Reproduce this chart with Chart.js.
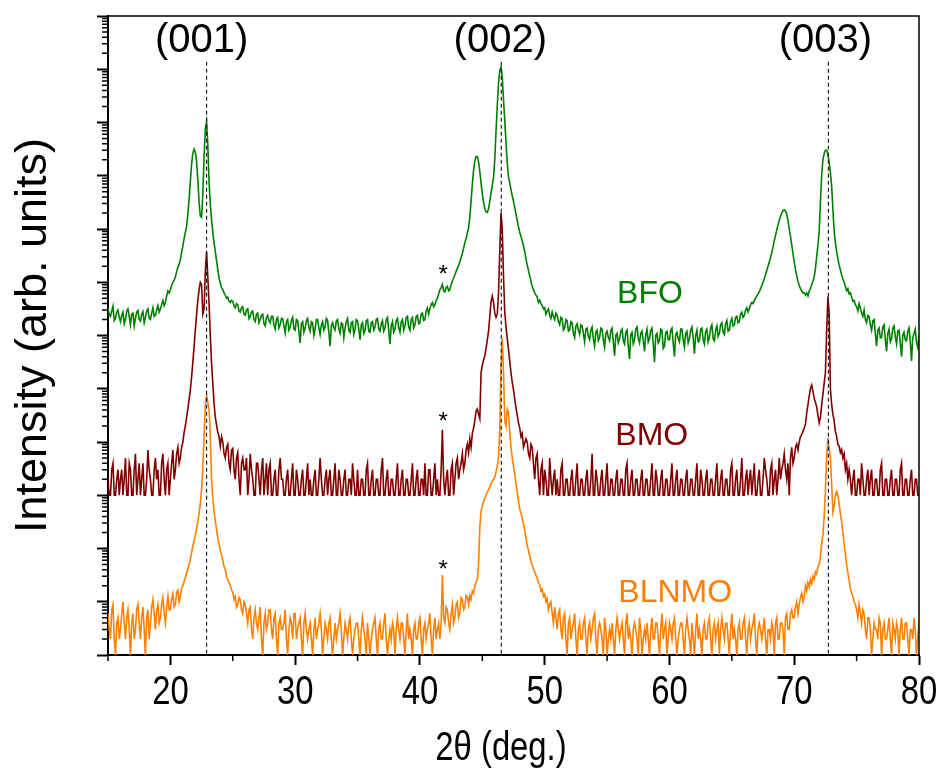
<!DOCTYPE html>
<html>
<head>
<meta charset="utf-8">
<title>XRD BFO / BMO / BLNMO</title>
<script src="https://cdn.jsdelivr.net/npm/chart.js@4.4.1/dist/chart.umd.min.js"></script>
<style>
  html, body { margin: 0; padding: 0; background: #fff; }
  #wrap { width: 941px; height: 778px; position: relative; }
</style>
</head>
<body>
<div id="wrap"><canvas id="xrd"></canvas></div>
<script>
/* ================================================
   DATA  (2theta scan in deg; intensities as log10 of
   arb. units, already offset per film as in the figure)
   one line = one degree (x.0 ... x.9)
================================================ */

const twoTheta = [
  15.0, 15.1, 15.2, 15.3, 15.4, 15.5, 15.6, 15.7, 15.8, 15.9,
  16.0, 16.1, 16.2, 16.3, 16.4, 16.5, 16.6, 16.7, 16.8, 16.9,
  17.0, 17.1, 17.2, 17.3, 17.4, 17.5, 17.6, 17.7, 17.8, 17.9,
  18.0, 18.1, 18.2, 18.3, 18.4, 18.5, 18.6, 18.7, 18.8, 18.9,
  19.0, 19.1, 19.2, 19.3, 19.4, 19.5, 19.6, 19.7, 19.8, 19.9,
  20.0, 20.1, 20.2, 20.3, 20.4, 20.5, 20.6, 20.7, 20.8, 20.9,
  21.0, 21.1, 21.2, 21.3, 21.4, 21.5, 21.6, 21.7, 21.8, 21.9,
  22.0, 22.1, 22.2, 22.3, 22.4, 22.5, 22.6, 22.7, 22.8, 22.9,
  23.0, 23.1, 23.2, 23.3, 23.4, 23.5, 23.6, 23.7, 23.8, 23.9,
  24.0, 24.1, 24.2, 24.3, 24.4, 24.5, 24.6, 24.7, 24.8, 24.9,
  25.0, 25.1, 25.2, 25.3, 25.4, 25.5, 25.6, 25.7, 25.8, 25.9,
  26.0, 26.1, 26.2, 26.3, 26.4, 26.5, 26.6, 26.7, 26.8, 26.9,
  27.0, 27.1, 27.2, 27.3, 27.4, 27.5, 27.6, 27.7, 27.8, 27.9,
  28.0, 28.1, 28.2, 28.3, 28.4, 28.5, 28.6, 28.7, 28.8, 28.9,
  29.0, 29.1, 29.2, 29.3, 29.4, 29.5, 29.6, 29.7, 29.8, 29.9,
  30.0, 30.1, 30.2, 30.3, 30.4, 30.5, 30.6, 30.7, 30.8, 30.9,
  31.0, 31.1, 31.2, 31.3, 31.4, 31.5, 31.6, 31.7, 31.8, 31.9,
  32.0, 32.1, 32.2, 32.3, 32.4, 32.5, 32.6, 32.7, 32.8, 32.9,
  33.0, 33.1, 33.2, 33.3, 33.4, 33.5, 33.6, 33.7, 33.8, 33.9,
  34.0, 34.1, 34.2, 34.3, 34.4, 34.5, 34.6, 34.7, 34.8, 34.9,
  35.0, 35.1, 35.2, 35.3, 35.4, 35.5, 35.6, 35.7, 35.8, 35.9,
  36.0, 36.1, 36.2, 36.3, 36.4, 36.5, 36.6, 36.7, 36.8, 36.9,
  37.0, 37.1, 37.2, 37.3, 37.4, 37.5, 37.6, 37.7, 37.8, 37.9,
  38.0, 38.1, 38.2, 38.3, 38.4, 38.5, 38.6, 38.7, 38.8, 38.9,
  39.0, 39.1, 39.2, 39.3, 39.4, 39.5, 39.6, 39.7, 39.8, 39.9,
  40.0, 40.1, 40.2, 40.3, 40.4, 40.5, 40.6, 40.7, 40.8, 40.9,
  41.0, 41.1, 41.2, 41.3, 41.4, 41.5, 41.6, 41.7, 41.8, 41.9,
  42.0, 42.1, 42.2, 42.3, 42.4, 42.5, 42.6, 42.7, 42.8, 42.9,
  43.0, 43.1, 43.2, 43.3, 43.4, 43.5, 43.6, 43.7, 43.8, 43.9,
  44.0, 44.1, 44.2, 44.3, 44.4, 44.5, 44.6, 44.7, 44.8, 44.9,
  45.0, 45.1, 45.2, 45.3, 45.4, 45.5, 45.6, 45.7, 45.8, 45.9,
  46.0, 46.1, 46.2, 46.3, 46.4, 46.5, 46.6, 46.7, 46.8, 46.9,
  47.0, 47.1, 47.2, 47.3, 47.4, 47.5, 47.6, 47.7, 47.8, 47.9,
  48.0, 48.1, 48.2, 48.3, 48.4, 48.5, 48.6, 48.7, 48.8, 48.9,
  49.0, 49.1, 49.2, 49.3, 49.4, 49.5, 49.6, 49.7, 49.8, 49.9,
  50.0, 50.1, 50.2, 50.3, 50.4, 50.5, 50.6, 50.7, 50.8, 50.9,
  51.0, 51.1, 51.2, 51.3, 51.4, 51.5, 51.6, 51.7, 51.8, 51.9,
  52.0, 52.1, 52.2, 52.3, 52.4, 52.5, 52.6, 52.7, 52.8, 52.9,
  53.0, 53.1, 53.2, 53.3, 53.4, 53.5, 53.6, 53.7, 53.8, 53.9,
  54.0, 54.1, 54.2, 54.3, 54.4, 54.5, 54.6, 54.7, 54.8, 54.9,
  55.0, 55.1, 55.2, 55.3, 55.4, 55.5, 55.6, 55.7, 55.8, 55.9,
  56.0, 56.1, 56.2, 56.3, 56.4, 56.5, 56.6, 56.7, 56.8, 56.9,
  57.0, 57.1, 57.2, 57.3, 57.4, 57.5, 57.6, 57.7, 57.8, 57.9,
  58.0, 58.1, 58.2, 58.3, 58.4, 58.5, 58.6, 58.7, 58.8, 58.9,
  59.0, 59.1, 59.2, 59.3, 59.4, 59.5, 59.6, 59.7, 59.8, 59.9,
  60.0, 60.1, 60.2, 60.3, 60.4, 60.5, 60.6, 60.7, 60.8, 60.9,
  61.0, 61.1, 61.2, 61.3, 61.4, 61.5, 61.6, 61.7, 61.8, 61.9,
  62.0, 62.1, 62.2, 62.3, 62.4, 62.5, 62.6, 62.7, 62.8, 62.9,
  63.0, 63.1, 63.2, 63.3, 63.4, 63.5, 63.6, 63.7, 63.8, 63.9,
  64.0, 64.1, 64.2, 64.3, 64.4, 64.5, 64.6, 64.7, 64.8, 64.9,
  65.0, 65.1, 65.2, 65.3, 65.4, 65.5, 65.6, 65.7, 65.8, 65.9,
  66.0, 66.1, 66.2, 66.3, 66.4, 66.5, 66.6, 66.7, 66.8, 66.9,
  67.0, 67.1, 67.2, 67.3, 67.4, 67.5, 67.6, 67.7, 67.8, 67.9,
  68.0, 68.1, 68.2, 68.3, 68.4, 68.5, 68.6, 68.7, 68.8, 68.9,
  69.0, 69.1, 69.2, 69.3, 69.4, 69.5, 69.6, 69.7, 69.8, 69.9,
  70.0, 70.1, 70.2, 70.3, 70.4, 70.5, 70.6, 70.7, 70.8, 70.9,
  71.0, 71.1, 71.2, 71.3, 71.4, 71.5, 71.6, 71.7, 71.8, 71.9,
  72.0, 72.1, 72.2, 72.3, 72.4, 72.5, 72.6, 72.7, 72.8, 72.9,
  73.0, 73.1, 73.2, 73.3, 73.4, 73.5, 73.6, 73.7, 73.8, 73.9,
  74.0, 74.1, 74.2, 74.3, 74.4, 74.5, 74.6, 74.7, 74.8, 74.9,
  75.0, 75.1, 75.2, 75.3, 75.4, 75.5, 75.6, 75.7, 75.8, 75.9,
  76.0, 76.1, 76.2, 76.3, 76.4, 76.5, 76.6, 76.7, 76.8, 76.9,
  77.0, 77.1, 77.2, 77.3, 77.4, 77.5, 77.6, 77.7, 77.8, 77.9,
  78.0, 78.1, 78.2, 78.3, 78.4, 78.5, 78.6, 78.7, 78.8, 78.9,
  79.0, 79.1, 79.2, 79.3, 79.4, 79.5, 79.6, 79.7, 79.8, 79.9,
  80.0
];

const bfoLogI = [
  6.52, 6.40, 6.36, 6.46, 6.55, 6.28, 6.32, 6.44, 6.48, 6.34,
  6.26, 6.38, 6.44, 6.22, 6.30, 6.46, 6.50, 6.36, 6.20, 6.40,
  6.42, 6.18, 6.32, 6.44, 6.47, 6.30, 6.27, 6.40, 6.45, 6.24,
  6.34, 6.46, 6.50, 6.32, 6.30, 6.42, 6.52, 6.36, 6.38, 6.48,
  6.56, 6.44, 6.50, 6.58, 6.66, 6.56, 6.62, 6.74, 6.84, 6.80,
  6.86, 6.94, 7.00, 7.04, 7.10, 7.20, 7.28, 7.34, 7.42, 7.56,
  7.68, 7.82, 7.94, 8.05, 8.28, 8.56, 8.90, 9.22, 9.42, 9.50,
  9.44, 9.27, 8.92, 8.50, 8.24, 8.22, 8.66, 9.36, 9.88, 10.02,
  9.58, 8.88, 8.46, 8.18, 7.94, 7.74, 7.58, 7.40, 7.24, 7.08,
  6.98, 6.90, 6.86, 6.80, 6.76, 6.70, 6.72, 6.64, 6.62, 6.66,
  6.64, 6.56, 6.52, 6.60, 6.58, 6.46, 6.44, 6.52, 6.54, 6.40,
  6.38, 6.48, 6.50, 6.32, 6.36, 6.44, 6.46, 6.30, 6.26, 6.40,
  6.42, 6.24, 6.30, 6.38, 6.40, 6.22, 6.18, 6.34, 6.38, 6.28,
  6.24, 6.36, 6.36, 6.20, 6.12, 6.30, 6.34, 6.14, 6.20, 6.32,
  6.32, 6.18, 6.05, 6.26, 6.30, 6.10, 6.16, 6.28, 6.34, 6.12,
  6.10, 6.30, 6.28, 6.08, 5.86, 6.22, 6.26, 6.06, 6.14, 6.28,
  6.32, 6.16, 6.08, 6.26, 6.24, 6.00, 6.12, 6.30, 6.30, 6.14,
  6.02, 6.20, 6.26, 6.10, 6.16, 6.32, 6.28, 6.06, 5.80, 6.18,
  6.24, 6.14, 6.10, 6.28, 6.30, 6.12, 6.04, 6.24, 6.22, 5.96,
  6.14, 6.26, 6.32, 6.10, 6.06, 6.24, 6.26, 6.02, 6.12, 6.30,
  6.28, 6.12, 5.92, 6.20, 6.24, 6.04, 6.10, 6.28, 6.30, 6.08,
  6.06, 6.24, 6.26, 6.10, 6.16, 6.30, 6.32, 6.12, 6.08, 6.22,
  6.28, 6.08, 6.14, 6.30, 6.34, 6.10, 5.84, 6.18, 6.26, 6.06,
  6.12, 6.28, 6.32, 6.14, 6.06, 6.26, 6.30, 6.10, 6.18, 6.34,
  6.36, 6.16, 6.10, 6.30, 6.34, 6.14, 6.20, 6.36, 6.38, 6.22,
  6.24, 6.40, 6.42, 6.28, 6.30, 6.46, 6.52, 6.40, 6.50, 6.58,
  6.62, 6.54, 6.58, 6.66, 6.70, 6.78, 6.86, 6.90, 6.96, 6.84,
  6.82, 6.90, 6.92, 6.84, 6.86, 6.96, 7.02, 7.08, 7.14, 7.20,
  7.26, 7.32, 7.38, 7.46, 7.54, 7.64, 7.74, 7.82, 7.92, 8.02,
  8.22, 8.52, 8.84, 9.10, 9.28, 9.36, 9.36, 9.26, 9.08, 8.86,
  8.66, 8.50, 8.38, 8.32, 8.31, 8.38, 8.52, 8.68, 8.82, 8.98,
  9.30, 9.84, 10.32, 10.74, 10.98, 11.04, 10.86, 10.42, 10.04, 9.62,
  9.24, 8.98, 8.86, 8.74, 8.62, 8.52, 8.40, 8.28, 8.16, 8.04,
  7.94, 7.86, 7.78, 7.68, 7.58, 7.44, 7.32, 7.22, 7.12, 7.02,
  6.92, 6.86, 6.80, 6.76, 6.72, 6.62, 6.66, 6.60, 6.56, 6.50,
  6.52, 6.40, 6.46, 6.50, 6.38, 6.32, 6.44, 6.36, 6.30, 6.42,
  6.38, 6.26, 6.20, 6.34, 6.32, 6.10, 6.14, 6.30, 6.28, 6.08,
  6.10, 6.26, 6.24, 6.04, 5.96, 6.18, 6.22, 6.10, 6.02, 6.20,
  6.18, 6.04, 5.88, 6.12, 6.14, 5.98, 5.92, 6.10, 6.16, 5.94,
  5.80, 6.06, 6.10, 5.90, 5.96, 6.14, 6.12, 5.92, 5.78, 6.04,
  6.08, 5.96, 5.90, 6.10, 6.14, 5.88, 5.62, 6.00, 6.04, 5.86,
  5.94, 6.08, 6.12, 5.90, 5.84, 6.06, 6.10, 5.80, 5.56, 6.02,
  6.06, 5.84, 5.92, 6.12, 6.16, 5.94, 5.86, 6.04, 6.08, 5.90,
  5.70, 6.02, 6.12, 5.88, 5.94, 6.10, 6.14, 5.84, 5.50, 6.00,
  6.04, 5.86, 5.90, 6.12, 6.10, 5.76, 5.80, 6.06, 6.08, 5.92,
  5.92, 6.10, 6.14, 5.86, 5.60, 6.02, 6.06, 5.94, 5.88, 6.12,
  6.12, 5.92, 5.78, 6.04, 6.08, 5.86, 5.94, 6.10, 6.16, 5.96,
  5.66, 6.00, 6.10, 5.88, 5.90, 6.12, 6.14, 5.92, 5.84, 6.08,
  6.12, 5.88, 5.96, 6.14, 6.20, 5.94, 5.90, 6.10, 6.18, 5.98,
  6.04, 6.20, 6.24, 6.06, 6.02, 6.22, 6.28, 6.08, 6.10, 6.26,
  6.32, 6.18, 6.20, 6.34, 6.36, 6.24, 6.26, 6.40, 6.44, 6.34,
  6.38, 6.48, 6.52, 6.44, 6.50, 6.58, 6.62, 6.60, 6.66, 6.70,
  6.74, 6.78, 6.82, 6.88, 6.94, 7.00, 7.06, 7.14, 7.22, 7.30,
  7.38, 7.46, 7.56, 7.66, 7.78, 7.88, 7.98, 8.08, 8.16, 8.24,
  8.30, 8.34, 8.36, 8.34, 8.28, 8.16, 8.00, 7.86, 7.70, 7.54,
  7.38, 7.24, 7.12, 7.02, 6.94, 6.88, 6.84, 6.80, 6.80, 6.76,
  6.80, 6.74, 6.84, 6.88, 6.96, 7.02, 7.10, 7.26, 7.48, 7.70,
  7.96, 8.50, 9.02, 9.30, 9.42, 9.48, 9.48, 9.40, 9.26, 9.06,
  8.80, 8.36, 7.96, 7.74, 7.58, 7.44, 7.32, 7.23, 7.14, 7.06,
  7.00, 6.92, 6.84, 6.88, 6.78, 6.80, 6.72, 6.64, 6.66, 6.58,
  6.54, 6.46, 6.60, 6.52, 6.42, 6.36, 6.48, 6.30, 6.24, 6.38,
  6.36, 6.20, 6.10, 6.28, 6.30, 6.04, 5.80, 6.10, 6.14, 5.96,
  5.96, 6.16, 6.20, 5.92, 5.70, 6.04, 6.12, 5.88, 5.94, 6.14,
  6.18, 5.98, 5.84, 6.08, 6.10, 5.86, 5.60, 6.00, 6.06, 5.92,
  5.90, 6.08, 6.14, 5.88, 5.52, 5.96, 6.04, 6.12, 5.86, 5.78,
  6.00
];

const bmoLogI = [
  3.30, 3.00, 3.00, 3.48, 3.60, 3.00, 3.00, 3.30, 3.48, 3.00,
  3.30, 3.48, 3.00, 3.30, 3.70, 3.00, 3.00, 3.60, 3.48, 3.00,
  3.00, 3.48, 3.78, 3.00, 3.30, 3.60, 3.00, 3.30, 3.60, 3.00,
  3.00, 3.30, 3.85, 3.48, 3.30, 3.00, 3.00, 3.48, 3.70, 3.30,
  3.48, 3.00, 3.00, 3.60, 3.78, 3.30, 3.00, 3.48, 3.60, 3.00,
  3.30, 3.60, 3.85, 3.30, 3.48, 3.78, 3.90, 3.60, 3.70, 3.90,
  4.00, 4.18, 4.30, 4.46, 4.62, 4.80, 4.98, 5.22, 5.50, 5.80,
  6.10, 6.40, 6.66, 6.86, 7.00, 6.96, 6.40, 6.50, 7.20, 7.57,
  7.10, 6.60, 6.00, 5.48, 5.10, 4.72, 4.46, 4.32, 4.18, 4.10,
  3.92, 4.10, 4.00, 3.78, 3.70, 3.90, 3.96, 3.60, 3.48, 3.85,
  3.88, 3.48, 3.30, 3.70, 3.80, 3.30, 3.00, 3.60, 3.70, 3.48,
  3.48, 3.70, 3.00, 3.30, 3.78, 3.48, 3.30, 3.00, 3.00, 3.60,
  3.60, 3.30, 3.00, 3.48, 3.70, 3.00, 3.30, 3.60, 3.00, 3.48,
  3.60, 3.00, 3.00, 3.30, 3.48, 3.00, 3.00, 3.48, 3.70, 3.30,
  3.30, 3.00, 3.00, 3.30, 3.48, 3.00, 3.00, 3.30, 3.60, 3.00,
  3.00, 3.48, 3.30, 3.00, 3.00, 3.30, 3.48, 3.00, 3.00, 3.30,
  3.60, 3.00, 3.30, 3.00, 3.00, 3.30, 3.48, 3.00, 3.00, 3.30,
  3.70, 3.30, 3.00, 3.00, 3.30, 3.48, 3.00, 3.30, 3.48, 3.00,
  3.00, 3.30, 3.60, 3.00, 3.00, 3.48, 3.30, 3.00, 3.00, 3.30,
  3.48, 3.00, 3.00, 3.30, 3.30, 3.00, 3.60, 3.30, 3.00, 3.00,
  3.48, 3.00, 3.00, 3.30, 3.30, 3.00, 3.00, 3.48, 3.60, 3.00,
  3.00, 3.30, 3.48, 3.00, 3.00, 3.30, 3.30, 3.00, 3.00, 3.48,
  3.70, 3.00, 3.00, 3.30, 3.48, 3.00, 3.00, 3.30, 3.30, 3.00,
  3.00, 3.30, 3.60, 3.00, 3.00, 3.30, 3.48, 3.00, 3.00, 3.30,
  3.30, 3.00, 3.00, 3.30, 3.60, 3.00, 3.00, 3.30, 3.48, 3.00,
  3.00, 3.30, 3.30, 3.00, 3.60, 3.00, 3.00, 3.48, 3.48, 3.00,
  3.00, 3.30, 3.60, 3.00, 3.30, 3.00, 3.00, 3.48, 4.23, 3.30,
  3.00, 3.30, 3.48, 3.00, 3.00, 3.48, 3.60, 3.00, 3.30, 3.60,
  3.70, 3.30, 3.48, 3.60, 3.78, 3.48, 3.60, 3.85, 3.96, 3.80,
  4.06, 3.90, 4.16, 4.26, 4.40, 4.58, 4.62, 4.52, 4.44, 5.30,
  5.44, 5.54, 5.62, 5.76, 5.92, 6.08, 6.36, 6.64, 6.74, 6.62,
  6.42, 6.34, 6.40, 6.80, 7.60, 8.30, 8.00, 7.10, 6.44, 6.16,
  5.94, 5.74, 5.52, 5.30, 5.12, 4.98, 4.80, 4.64, 4.50, 4.36,
  4.26, 4.10, 4.16, 3.90, 3.98, 4.06, 4.00, 3.78, 3.70, 3.96,
  3.90, 3.60, 3.30, 3.70, 3.78, 3.30, 3.00, 3.48, 3.60, 3.00,
  3.48, 3.30, 3.00, 3.00, 3.70, 3.30, 3.00, 3.30, 3.48, 3.00,
  3.30, 3.00, 3.00, 3.48, 3.60, 3.00, 3.00, 3.30, 3.30, 3.00,
  3.00, 3.30, 3.48, 3.00, 3.00, 3.30, 3.60, 3.00, 3.00, 3.30,
  3.30, 3.00, 3.00, 3.30, 3.48, 3.00, 3.00, 3.30, 3.78, 3.00,
  3.00, 3.48, 3.30, 3.00, 3.00, 3.30, 3.48, 3.00, 3.00, 3.30,
  3.60, 3.00, 3.00, 3.30, 3.30, 3.00, 3.00, 3.30, 3.48, 3.00,
  3.00, 3.30, 3.30, 3.00, 3.00, 3.48, 3.60, 3.00, 3.00, 3.30,
  3.48, 3.00, 3.00, 3.30, 3.30, 3.00, 3.00, 3.30, 3.48, 3.00,
  3.00, 3.30, 3.30, 3.00, 3.00, 3.30, 3.60, 3.00, 3.00, 3.48,
  3.30, 3.00, 3.00, 3.30, 3.48, 3.00, 3.00, 3.30, 3.30, 3.00,
  3.00, 3.30, 3.60, 3.00, 3.00, 3.30, 3.48, 3.00, 3.00, 3.30,
  3.30, 3.00, 3.00, 3.30, 3.48, 3.00, 3.00, 3.30, 3.30, 3.00,
  3.00, 3.30, 3.60, 3.00, 3.00, 3.48, 3.30, 3.00, 3.00, 3.30,
  3.48, 3.00, 3.00, 3.30, 3.30, 3.00, 3.00, 3.30, 3.60, 3.00,
  3.00, 3.30, 3.48, 3.00, 3.00, 3.30, 3.30, 3.00, 3.00, 3.48,
  3.60, 3.00, 3.00, 3.30, 3.48, 3.00, 3.00, 3.30, 3.70, 3.00,
  3.00, 3.30, 3.48, 3.00, 3.30, 3.48, 3.00, 3.30, 3.60, 3.00,
  3.00, 3.30, 3.48, 3.00, 3.00, 3.30, 3.70, 3.48, 3.30, 3.00,
  3.00, 3.48, 3.60, 3.00, 3.30, 3.48, 3.00, 3.30, 3.70, 3.30,
  3.48, 3.60, 3.78, 3.48, 3.30, 3.60, 3.00, 3.70, 3.90, 3.60,
  3.70, 3.90, 3.96, 3.85, 4.00, 4.10, 4.14, 4.20, 4.26, 4.34,
  4.54, 4.70, 4.86, 5.00, 5.07, 4.96, 4.82, 4.74, 4.66, 4.50,
  4.36, 4.46, 4.70, 4.90, 5.10, 5.30, 6.10, 6.73, 6.42, 5.00,
  4.70, 4.52, 4.40, 4.20, 4.10, 3.96, 3.92, 3.80, 3.86, 3.70,
  3.78, 3.48, 3.60, 3.30, 3.48, 3.30, 3.00, 3.30, 3.48, 3.00,
  3.00, 3.30, 3.30, 3.00, 3.60, 3.30, 3.00, 3.00, 3.30, 3.48,
  3.00, 3.30, 3.48, 3.00, 3.00, 3.30, 3.30, 3.00, 3.00, 3.48,
  3.60, 3.00, 3.00, 3.30, 3.30, 3.00, 3.00, 3.30, 3.48, 3.00,
  3.00, 3.30, 3.30, 3.00, 3.00, 3.48, 3.60, 3.00, 3.00, 3.30,
  3.30, 3.00, 3.00, 3.30, 3.48, 3.00, 3.00, 3.30, 3.30, 3.00,
  3.00
];

const blnmoLogI = [
  0.78, 0.48, 0.30, 0.85, 0.95, 0.30, 0.00, 0.60, 0.70, 0.30,
  0.48, 0.78, 1.00, 0.60, 0.30, 0.70, 0.85, 0.48, 0.00, 0.60,
  0.78, 0.30, 0.48, 0.85, 0.95, 0.60, 0.30, 0.70, 0.90, 0.48,
  0.00, 0.70, 0.85, 0.30, 0.60, 0.90, 1.04, 0.78, 0.48, 0.85,
  0.95, 0.60, 0.70, 0.95, 1.08, 0.78, 0.60, 0.90, 1.10, 0.85,
  0.85, 1.04, 1.15, 0.90, 0.95, 1.18, 1.22, 1.00, 1.10, 1.26,
  1.30, 1.38, 1.45, 1.54, 1.62, 1.70, 1.80, 1.92, 2.05, 2.15,
  2.25, 2.38, 2.50, 2.66, 2.85, 3.10, 3.50, 4.10, 4.70, 4.88,
  4.74, 4.62, 4.10, 3.30, 2.96, 2.70, 2.52, 2.36, 2.20, 2.08,
  1.96, 1.88, 1.78, 1.66, 1.60, 1.48, 1.40, 1.36, 1.30, 1.22,
  1.18, 1.04, 1.10, 0.90, 0.95, 1.08, 1.04, 0.85, 0.78, 1.00,
  0.95, 0.78, 0.60, 0.85, 0.90, 0.48, 0.30, 0.70, 0.85, 0.60,
  0.48, 0.70, 0.90, 0.30, 0.00, 0.60, 0.78, 0.48, 0.60, 0.85,
  0.85, 0.48, 0.30, 0.70, 0.78, 0.30, 0.00, 0.60, 0.70, 0.48,
  0.48, 0.60, 0.85, 0.30, 0.00, 0.48, 0.70, 0.60, 0.30, 0.78,
  0.78, 0.30, 0.48, 0.60, 0.70, 0.30, 0.00, 0.60, 0.78, 0.48,
  0.30, 0.48, 0.60, 0.30, 0.00, 0.48, 0.70, 0.30, 0.48, 0.60,
  0.78, 0.48, 0.00, 0.30, 0.60, 0.48, 0.30, 0.60, 0.70, 0.30,
  0.00, 0.30, 0.60, 0.30, 0.48, 0.60, 0.78, 0.48, 0.00, 0.30,
  0.60, 0.48, 0.30, 0.60, 0.70, 0.30, 0.00, 0.30, 0.48, 0.60,
  0.60, 0.30, 0.00, 0.48, 0.70, 0.48, 0.30, 0.00, 0.60, 0.30,
  0.00, 0.30, 0.48, 0.60, 0.70, 0.30, 0.00, 0.48, 0.60, 0.30,
  0.30, 0.60, 0.78, 0.30, 0.00, 0.30, 0.48, 0.30, 0.60, 0.48,
  0.00, 0.48, 0.70, 0.48, 0.30, 0.60, 0.60, 0.30, 0.00, 0.48,
  0.78, 0.30, 0.48, 0.30, 0.00, 0.48, 0.60, 0.30, 0.30, 0.60,
  0.70, 0.30, 0.00, 0.48, 0.60, 0.30, 0.48, 0.60, 0.78, 0.30,
  0.00, 0.48, 0.70, 0.30, 0.48, 0.60, 0.30, 0.60, 1.50, 0.70,
  0.60, 0.90, 0.85, 0.60, 0.48, 0.78, 0.95, 0.60, 0.70, 0.95,
  1.00, 0.70, 0.78, 1.08, 1.04, 0.85, 0.90, 1.12, 1.10, 0.95,
  1.12, 1.04, 1.20, 1.16, 1.30, 1.36, 1.42, 1.70, 2.40, 2.70,
  2.80, 2.88, 2.94, 3.00, 3.06, 3.10, 3.16, 3.22, 3.26, 3.30,
  3.34, 3.44, 3.54, 3.70, 4.20, 5.40, 5.95, 5.30, 4.40, 4.30,
  4.62, 4.56, 4.18, 3.90, 3.70, 3.54, 3.40, 3.22, 3.06, 2.90,
  2.74, 2.66, 2.56, 2.46, 2.34, 2.20, 2.06, 1.96, 1.86, 1.76,
  1.68, 1.62, 1.56, 1.50, 1.44, 1.36, 1.32, 1.20, 1.24, 1.10,
  1.14, 1.00, 1.06, 0.85, 0.95, 1.00, 0.78, 0.60, 0.90, 0.70,
  0.48, 0.78, 0.85, 0.48, 0.30, 0.70, 0.78, 0.30, 0.00, 0.60,
  0.70, 0.30, 0.48, 0.60, 0.78, 0.30, 0.00, 0.48, 0.60, 0.30,
  0.30, 0.60, 0.70, 0.30, 0.00, 0.48, 0.60, 0.30, 0.48, 0.70,
  0.78, 0.30, 0.00, 0.48, 0.60, 0.48, 0.30, 0.00, 0.70, 0.48,
  0.00, 0.30, 0.48, 0.30, 0.60, 0.30, 0.00, 0.48, 0.70, 0.48,
  0.30, 0.48, 0.60, 0.30, 0.00, 0.60, 0.78, 0.30, 0.48, 0.30,
  0.00, 0.48, 0.60, 0.48, 0.30, 0.00, 0.70, 0.48, 0.00, 0.30,
  0.48, 0.30, 0.60, 0.30, 0.00, 0.48, 0.70, 0.30, 0.30, 0.60,
  0.60, 0.30, 0.00, 0.48, 0.78, 0.30, 0.48, 0.60, 0.00, 0.30,
  0.60, 0.48, 0.30, 0.60, 0.70, 0.30, 0.00, 0.30, 0.48, 0.60,
  0.60, 0.30, 0.00, 0.48, 0.70, 0.48, 0.30, 0.00, 0.60, 0.30,
  0.00, 0.48, 0.78, 0.30, 0.48, 0.30, 0.00, 0.48, 0.60, 0.30,
  0.30, 0.60, 0.70, 0.30, 0.00, 0.48, 0.60, 0.30, 0.48, 0.60,
  0.00, 0.48, 0.70, 0.48, 0.30, 0.60, 0.60, 0.30, 0.00, 0.48,
  0.78, 0.30, 0.48, 0.30, 0.00, 0.48, 0.60, 0.30, 0.30, 0.60,
  0.70, 0.30, 0.00, 0.48, 0.60, 0.30, 0.48, 0.60, 0.78, 0.30,
  0.00, 0.48, 0.60, 0.48, 0.30, 0.48, 0.70, 0.30, 0.00, 0.48,
  0.48, 0.30, 0.60, 0.48, 0.00, 0.60, 0.70, 0.30, 0.30, 0.60,
  0.60, 0.48, 0.00, 0.70, 0.78, 0.48, 0.48, 0.78, 0.85, 0.70,
  0.70, 0.90, 1.00, 0.78, 0.95, 1.08, 1.16, 1.00, 1.10, 1.30,
  1.20, 1.36, 1.28, 1.42, 1.34, 1.48, 1.42, 1.56, 1.52, 1.66,
  1.70, 1.84, 2.10, 2.26, 2.60, 3.10, 3.70, 4.08, 3.86, 3.70,
  3.20, 2.68, 2.80, 3.00, 3.07, 3.00, 2.84, 2.66, 2.50, 2.30,
  2.08, 1.90, 1.70, 1.54, 1.40, 1.24, 1.16, 1.10, 1.00, 0.95,
  0.85, 0.70, 0.95, 0.78, 0.60, 0.85, 0.78, 0.48, 0.30, 0.70,
  0.70, 0.48, 0.00, 0.30, 0.60, 0.48, 0.48, 0.30, 0.70, 0.60,
  0.00, 0.48, 0.60, 0.30, 0.30, 0.48, 0.70, 0.30, 0.00, 0.60,
  0.48, 0.30, 0.60, 0.48, 0.00, 0.48, 0.70, 0.30, 0.30, 0.60,
  0.60, 0.30, 0.00, 0.48, 0.48, 0.30, 0.70, 0.48, 0.00, 0.30,
  0.60
];

const seriesNames  = ['BFO', 'BMO', 'BLNMO'];
const peakPos      = [22.9, 46.52, 72.74];      // dashed guide lines
const peakLabels   = ['(001)', '(002)', '(003)'];
const substratePos = 41.86;                     // '*' substrate marker

const xMajorTicks = [20, 30, 40, 50, 60, 70, 80];
const xMinorTicks = [15, 25, 35, 45, 55, 65, 75];

/* ================================================
   STYLE / PLACEMENT
================================================ */

const COLORS = {
  bfo:   '#008000',
  bmo:   '#800000',
  blnmo: '#ff8000',
  axis:  '#000000',
};

const FONT_SANS = '"Liberation Sans", Arial, sans-serif';
const NARROW    = 0.82;   // Arial Narrow look for the x axis texts

// text annotations, in data units (2theta, log10 I) where possible
const seriesLabelAt = [[55.8, 6.61], [55.66, 3.94], [55.9, 1.0]];
const starLabelAt   = [7.0, 4.24, 1.46];
const peakLabelDx   = [-5, -1, -3];
const guideTopLog   = 11.14;

/* ================================================
   CHART
================================================ */

const toPoints = logs => twoTheta.map((x, i) => ({ x, y: Math.pow(10, logs[i]) }));

const guideSets = peakPos.map(p => ({
  data: [{ x: p, y: Math.pow(10, guideTopLog) }, { x: p, y: 1 }],
  borderColor: '#222',
  borderWidth: 1.2,
  borderDash: [4, 3],
  pointRadius: 0,
  showLine: true,
  order: -1,
}));

const seriesSet = (logs, color) => ({
  data: toPoints(logs),
  borderColor: color,
  borderWidth: 1.6,
  pointRadius: 0,
  showLine: true,
  tension: 0,
});

const decorPlugin = {
  id: 'xrdDecor',
  afterDraw(chart) {
    const { ctx, chartArea: a, scales: { x, y } } = chart;
    ctx.save();

    /* top / right frame */
    ctx.strokeStyle = COLORS.axis;
    ctx.lineWidth = 1.5;
    ctx.beginPath();
    ctx.moveTo(a.left, a.top);
    ctx.lineTo(a.right, a.top);
    ctx.lineTo(a.right, a.bottom);
    ctx.stroke();

    /* minor ticks */
    ctx.beginPath();
    for (let n = 0; n < 12; n++) {
      for (let k = 2; k <= 9; k++) {
        const py = y.getPixelForValue(k * Math.pow(10, n));
        ctx.moveTo(a.left - 6, py);
        ctx.lineTo(a.left, py);
      }
    }
    xMinorTicks.forEach(v => {
      const px = x.getPixelForValue(v);
      ctx.moveTo(px, a.bottom);
      ctx.lineTo(px, a.bottom + 6);
    });
    ctx.stroke();

    ctx.fillStyle = COLORS.axis;
    ctx.textBaseline = 'alphabetic';
    ctx.textAlign = 'center';

    /* x tick labels + x title, condensed */
    ctx.font = '40px ' + FONT_SANS;
    xMajorTicks.forEach(v => {
      const t = String(v);
      ctx.fillText(t, x.getPixelForValue(v), a.bottom + 49, ctx.measureText(t).width * NARROW);
    });
    const xTitle = '2θ (deg.)';
    ctx.fillText(xTitle, 501, a.bottom + 105, ctx.measureText(xTitle).width * NARROW);

    /* peak indices */
    peakLabels.forEach((t, i) => {
      ctx.fillText(t, x.getPixelForValue(peakPos[i]) + peakLabelDx[i], 52);
    });

    /* substrate stars */
    ctx.font = '24px ' + FONT_SANS;
    starLabelAt.forEach(l => {
      ctx.fillText('*', x.getPixelForValue(substratePos), y.getPixelForValue(Math.pow(10, l)));
    });

    /* film names */
    const cols = [COLORS.bfo, COLORS.bmo, COLORS.blnmo];
    ctx.font = '32px ' + FONT_SANS;
    ctx.textAlign = 'left';
    seriesNames.forEach((name, i) => {
      const [tx, ty] = seriesLabelAt[i];
      ctx.fillStyle = cols[i];
      ctx.fillText(name, x.getPixelForValue(tx), y.getPixelForValue(Math.pow(10, ty)));
    });

    ctx.restore();
  },
};

new Chart(document.getElementById('xrd'), {
  type: 'scatter',
  data: {
    datasets: [
      ...guideSets,
      seriesSet(bfoLogI, COLORS.bfo),
      seriesSet(bmoLogI, COLORS.bmo),
      seriesSet(blnmoLogI, COLORS.blnmo),
    ],
  },
  options: {
    responsive: true,
    maintainAspectRatio: false,
    animation: false,
    layout: { padding: { top: 16, right: 22, left: 0, bottom: 0 } },
    plugins: {
      legend:  { display: false },
      tooltip: { enabled: false },
    },
    scales: {
      x: {
        type: 'linear',
        min: 15, max: 80,
        afterFit: s => { s.height = 123; },
        afterBuildTicks: s => { s.ticks = xMajorTicks.map(v => ({ value: v })); },
        ticks: { display: false, autoSkip: false },
        grid: {
          drawOnChartArea: false,
          drawTicks: true,
          tickLength: 10,
          tickWidth: 2,
          tickColor: COLORS.axis,
        },
        border: { display: true, color: COLORS.axis, width: 2 },
      },
      y: {
        type: 'logarithmic',
        min: 1, max: 1e12,
        afterFit: s => { s.width = 108; },
        afterBuildTicks: s => {
          s.ticks = Array.from({ length: 13 }, (_, n) => ({ value: Math.pow(10, n) }));
        },
        ticks: { display: false, autoSkip: false },
        grid: {
          drawOnChartArea: false,
          drawTicks: true,
          tickLength: 11,
          tickWidth: 2,
          tickColor: COLORS.axis,
        },
        border: { display: true, color: COLORS.axis, width: 2 },
        title: {
          display: true,
          text: 'Intensity (arb. units)',
          color: COLORS.axis,
          font: { family: FONT_SANS, size: 45 },
          padding: { top: 7, bottom: 0 },
        },
      },
    },
  },
  plugins: [decorPlugin],
});
</script>
</body>
</html>
